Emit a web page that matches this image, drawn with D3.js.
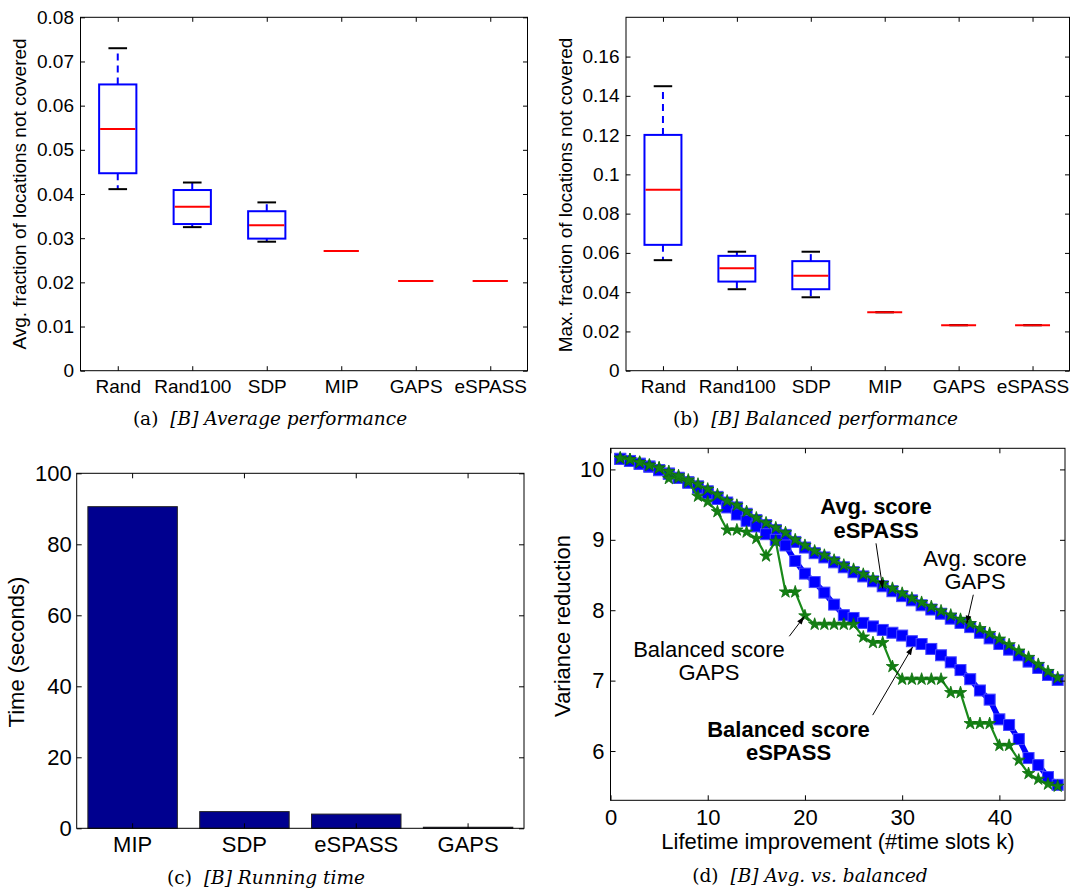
<!DOCTYPE html>
<html>
<head>
<meta charset="utf-8">
<script src="https://cdn.jsdelivr.net/npm/d3@7"></script>
<style>
  body { margin: 0; background: #fff; }
  svg { display: block; }
</style>
</head>
<body>
<div class="chart"></div>
<script>
var svgWidth = 1072;
var svgHeight = 890;

// (a) and (b): box plots over the six methods
var methods = ["Rand", "Rand100", "SDP", "MIP", "GAPS", "eSPASS"];

var avgWhiskerLow  = [0.0411, 0.0325, 0.0292, 0.0271, 0.0203, 0.0203];
var avgQ1          = [0.0447, 0.0332, 0.0299, 0.0271, 0.0203, 0.0203];
var avgMedian      = [0.0547, 0.0371, 0.0329, 0.0271, 0.0203, 0.0203];
var avgQ3          = [0.0648, 0.0409, 0.0361, 0.0271, 0.0203, 0.0203];
var avgWhiskerHigh = [0.0730, 0.0426, 0.0381, 0.0271, 0.0203, 0.0203];
var avgTicks = [0, 0.01, 0.02, 0.03, 0.04, 0.05, 0.06, 0.07, 0.08];

var maxWhiskerLow  = [0.0563, 0.0415, 0.0374, 0.0298, 0.0232, 0.0232];
var maxQ1          = [0.0641, 0.0454, 0.0415, 0.0298, 0.0232, 0.0232];
var maxMedian      = [0.0922, 0.0522, 0.0483, 0.0298, 0.0232, 0.0232];
var maxQ3          = [0.1201, 0.0585, 0.0558, 0.0298, 0.0232, 0.0232];
var maxWhiskerHigh = [0.1449, 0.0606, 0.0606, 0.0298, 0.0232, 0.0232];
var maxTicks = [0, 0.02, 0.04, 0.06, 0.08, 0.1, 0.12, 0.14, 0.16];

// (c): running time
var timeMethods = ["MIP", "SDP", "eSPASS", "GAPS"];
var timeSeconds = [90.6, 4.7, 4.0, 0.3];
var timeTicks = [0, 20, 40, 60, 80, 100];

// (d): variance reduction vs lifetime improvement
var slots = [1, 2, 3, 4, 5, 6, 7, 8, 9, 10, 11, 12, 13, 14, 15, 16, 17, 18, 19, 20, 21, 22, 23,
             24, 25, 26, 27, 28, 29, 30, 31, 32, 33, 34, 35, 36, 37, 38, 39, 40, 41, 42, 43, 44, 45, 46];
var avgESPASS = [10.15, 10.12, 10.08, 10.04, 9.99, 9.94, 9.88, 9.82, 9.76, 9.69, 9.61, 9.53, 9.46, 9.37, 9.28, 9.21,
                 9.14, 9.07, 8.97, 8.89, 8.81, 8.75, 8.68, 8.61, 8.54, 8.48, 8.41, 8.34, 8.27, 8.20, 8.14, 8.07,
                 8.01, 7.95, 7.88, 7.82, 7.76, 7.68, 7.60, 7.52, 7.44, 7.36, 7.27, 7.18, 7.08, 7.01];
var avgGAPS   = [10.16, 10.14, 10.10, 10.06, 10.02, 9.97, 9.91, 9.85, 9.79, 9.72, 9.64, 9.55, 9.49, 9.40, 9.31, 9.24,
                 9.17, 9.10, 9.00, 8.92, 8.84, 8.78, 8.71, 8.64, 8.58, 8.51, 8.45, 8.38, 8.31, 8.24, 8.17, 8.11,
                 8.05, 7.99, 7.93, 7.87, 7.81, 7.74, 7.67, 7.59, 7.51, 7.42, 7.33, 7.23, 7.13, 7.04];
var balESPASS = [10.15, 10.12, 10.08, 10.04, 9.99, 9.94, 9.88, 9.81, 9.74, 9.66, 9.58, 9.46, 9.36, 9.27, 9.19, 9.08,
                 9.00, 8.92, 8.70, 8.52, 8.40, 8.25, 8.08, 7.93, 7.89, 7.82, 7.77, 7.72, 7.68, 7.64, 7.56, 7.52,
                 7.45, 7.36, 7.26, 7.15, 7.02, 6.86, 6.73, 6.45, 6.37, 6.17, 5.90, 5.80, 5.63, 5.52];
var balGAPS   = [10.16, 10.14, 10.10, 10.06, 10.02, 9.87, 9.88, 9.82, 9.62, 9.54, 9.40, 9.14, 9.14, 9.11, 9.02, 8.77,
                 8.98, 8.26, 8.26, 7.92, 7.80, 7.80, 7.80, 7.80, 7.80, 7.62, 7.54, 7.54, 7.20, 7.02, 7.02, 7.02,
                 7.02, 7.02, 6.83, 6.83, 6.39, 6.39, 6.39, 6.08, 6.08, 5.87, 5.68, 5.60, 5.53, 5.50];
var slotTicks = [0, 10, 20, 30, 40];
var varianceTicks = [6, 7, 8, 9, 10];

var sans = "'Liberation Sans', Arial, Helvetica, sans-serif";
var serif = "'DejaVu Serif', serif";

var svg = d3.select(".chart")
  .append("svg")
  .attr("width", svgWidth)
  .attr("height", svgHeight);

var defs = svg.append("defs");
defs.append("marker")
  .attr("id", "arrowhead")
  .attr("viewBox", "0 0 10 10")
  .attr("refX", 10)
  .attr("refY", 5)
  .attr("markerWidth", 9)
  .attr("markerHeight", 8)
  .attr("markerUnits", "userSpaceOnUse")
  .attr("orient", "auto")
  .append("path")
  .attr("d", "M0,1.5 L10,5 L0,8.5 Z")
  .attr("fill", "#000");

// box on, ticks mirrored inwards like matlab
function addFrame(g, w, h) {
  g.append("rect")
    .attr("width", w)
    .attr("height", h)
    .attr("fill", "none")
    .attr("stroke", "#000")
    .attr("stroke-width", 1);
}

function addYAxes(g, y, ticks, w, fontSize, pad, tk) {
  g.append("g")
    .call(d3.axisLeft(y).tickValues(ticks).tickFormat(d3.format("~g"))
      .tickSizeInner(-tk).tickSizeOuter(0).tickPadding(pad))
    .call(s => s.select(".domain").remove())
    .attr("font-family", sans)
    .attr("font-size", fontSize);
  g.append("g")
    .attr("transform", `translate(${w},0)`)
    .call(d3.axisRight(y).tickValues(ticks).tickFormat("")
      .tickSizeInner(-tk).tickSizeOuter(0))
    .call(s => s.select(".domain").remove());
}

function addXAxes(g, x, ticks, h, fontSize, pad, tk) {
  var bottom = d3.axisBottom(x).tickSizeInner(-tk).tickSizeOuter(0).tickPadding(pad);
  var top = d3.axisTop(x).tickSizeInner(-tk).tickSizeOuter(0).tickFormat("");
  if (ticks) {
    bottom.tickValues(ticks).tickFormat(d3.format("~g"));
    top.tickValues(ticks);
  }
  g.append("g")
    .attr("transform", `translate(0,${h})`)
    .call(bottom)
    .call(s => s.select(".domain").remove())
    .attr("font-family", sans)
    .attr("font-size", fontSize);
  g.append("g")
    .call(top)
    .call(s => s.select(".domain").remove());
}

function yTitle(x, y, text, fontSize) {
  svg.append("text")
    .attr("transform", `translate(${x},${y}) rotate(-90)`)
    .attr("text-anchor", "middle")
    .attr("font-family", sans)
    .attr("font-size", fontSize)
    .text(text);
}

function caption(cx, cy, tag, rest) {
  var t = svg.append("text")
    .attr("x", cx)
    .attr("y", cy)
    .attr("text-anchor", "middle")
    .attr("font-family", serif)
    .attr("font-size", 18.5);
  t.append("tspan").text(tag);
  t.append("tspan").attr("dx", 12).attr("font-style", "italic").text(rest);
}

// ---------- (a) and (b) box plots ----------
function drawBoxPanel(box, lo, q1, med, q3, hi, ticks, yMax) {
  var w = box.right - box.left;
  var h = box.bottom - box.top;
  var g = svg.append("g").attr("transform", `translate(${box.left},${box.top})`);

  var x = d3.scalePoint().domain(methods).range([0, w]).padding(0.5);
  var y = d3.scaleLinear().domain([0, yMax]).range([h, 0]);
  var half = x.step() * 0.25;
  var cap = x.step() * 0.125;

  var stats = methods.map((m, i) => ({ m: m, lo: lo[i], q1: q1[i], med: med[i], q3: q3[i], hi: hi[i] }));
  var boxes = g.selectAll("g.box").data(stats).enter().append("g").attr("class", "box");

  boxes.append("line")
    .attr("x1", d => x(d.m)).attr("x2", d => x(d.m))
    .attr("y1", d => y(d.q3)).attr("y2", d => y(d.hi))
    .attr("stroke", "#0000ff").attr("stroke-width", 2).attr("stroke-dasharray", "7,5");
  boxes.append("line")
    .attr("x1", d => x(d.m)).attr("x2", d => x(d.m))
    .attr("y1", d => y(d.q1)).attr("y2", d => y(d.lo))
    .attr("stroke", "#0000ff").attr("stroke-width", 2).attr("stroke-dasharray", "7,5");
  boxes.append("line")
    .attr("x1", d => x(d.m) - cap).attr("x2", d => x(d.m) + cap)
    .attr("y1", d => y(d.hi)).attr("y2", d => y(d.hi))
    .attr("stroke", "#000").attr("stroke-width", 2);
  boxes.append("line")
    .attr("x1", d => x(d.m) - cap).attr("x2", d => x(d.m) + cap)
    .attr("y1", d => y(d.lo)).attr("y2", d => y(d.lo))
    .attr("stroke", "#000").attr("stroke-width", 2);
  boxes.append("rect")
    .attr("x", d => x(d.m) - half)
    .attr("y", d => y(d.q3))
    .attr("width", half * 2)
    .attr("height", d => y(d.q1) - y(d.q3))
    .attr("fill", "none")
    .attr("stroke", "#0000ff")
    .attr("stroke-width", 2);
  boxes.append("line")
    .attr("x1", d => x(d.m) - half + 1).attr("x2", d => x(d.m) + half - 1)
    .attr("y1", d => y(d.med)).attr("y2", d => y(d.med))
    .attr("stroke", "#ff0000").attr("stroke-width", 2);

  addFrame(g, w, h);
  addYAxes(g, y, ticks, w, 19, 6.5, 4.5);
  addXAxes(g, x, null, h, 19, 9, 4.5);
}

drawBoxPanel({ left: 80.5, right: 527.5, top: 17.3, bottom: 370.7 },
  avgWhiskerLow, avgQ1, avgMedian, avgQ3, avgWhiskerHigh, avgTicks, 0.08);
yTitle(26, 194, "Avg. fraction of locations not covered", 19);
caption(270, 425, "(a)", "[B] Average performance");

drawBoxPanel({ left: 626, right: 1069.5, top: 17.3, bottom: 370.7 },
  maxWhiskerLow, maxQ1, maxMedian, maxQ3, maxWhiskerHigh, maxTicks, 0.18);
yTitle(572, 195, "Max. fraction of locations not covered", 19);
caption(815.5, 425, "(b)", "[B] Balanced performance");

// ---------- (c) running time bars ----------
(function () {
  var box = { left: 76.7, right: 524, top: 473.3, bottom: 828.3 };
  var w = box.right - box.left;
  var h = box.bottom - box.top;
  var g = svg.append("g").attr("transform", `translate(${box.left},${box.top})`);

  var x = d3.scaleBand().domain(timeMethods).range([0, w]).paddingInner(0.2).paddingOuter(0.1);
  var y = d3.scaleLinear().domain([0, 100]).range([h, 0]);

  g.selectAll("rect.bar")
    .data(timeSeconds)
    .enter()
    .append("rect")
    .attr("class", "bar")
    .attr("x", (d, i) => x(timeMethods[i]))
    .attr("y", d => y(d))
    .attr("width", x.bandwidth())
    .attr("height", d => h - y(d))
    .attr("fill", "#00008f")
    .attr("stroke", "#222")
    .attr("stroke-width", 1);

  addFrame(g, w, h);
  addYAxes(g, y, timeTicks, w, 22, 5, 5);
  addXAxes(g, x, null, h, 22, 8, 5);
})();
yTitle(23.5, 652, "Time (seconds)", 22);
caption(266, 884, "(c)", "[B] Running time");

// ---------- (d) avg vs balanced ----------
(function () {
  var box = { left: 610.5, right: 1065, top: 448.3, bottom: 800.3 };
  var w = box.right - box.left;
  var h = box.bottom - box.top;
  var g = svg.append("g").attr("transform", `translate(${box.left},${box.top})`);

  var x = d3.scaleLinear().domain([0, 46.75]).range([0, w]);
  var y = d3.scaleLinear().domain([5.3, 10.3]).range([h, 0]);
  var line = d3.line().x((d, i) => x(slots[i])).y(d => y(d));

  // blue squares (eSPASS), drawn under the green stars (GAPS)
  [avgESPASS, balESPASS].forEach(function (series) {
    g.append("path")
      .datum(series)
      .attr("d", line)
      .attr("fill", "none")
      .attr("stroke", "#0000ff")
      .attr("stroke-width", 5.5)
      .attr("stroke-linejoin", "miter");
    g.selectAll(null)
      .data(series)
      .enter()
      .append("rect")
      .attr("x", (d, i) => x(slots[i]) - 5.5)
      .attr("y", d => y(d) - 5.5)
      .attr("width", 11)
      .attr("height", 11)
      .attr("fill", "#0000ff")
      .attr("stroke", "#4848ff")
      .attr("stroke-width", 1);
  });

  var star = d3.symbol().type(d3.symbolStar).size(48);
  [balGAPS, avgGAPS].forEach(function (series) {
    g.append("path")
      .datum(series)
      .attr("d", line)
      .attr("fill", "none")
      .attr("stroke", "#1a8a1a")
      .attr("stroke-width", 2.2);
    g.selectAll(null)
      .data(series)
      .enter()
      .append("path")
      .attr("d", star)
      .attr("transform", (d, i) => `translate(${x(slots[i])},${y(d)})`)
      .attr("fill", "#138013")
      .attr("stroke", "#0d6e0d")
      .attr("stroke-width", 0.8);
  });

  addFrame(g, w, h);
  addYAxes(g, y, varianceTicks, w, 22, 6, 5);
  addXAxes(g, x, slotTicks, h, 22, 9.5, 5);

  // annotations with arrows (data coordinates)
  var notes = [
    { lines: ["Avg. score", "eSPASS"], bold: true, at: [27.31, 9.36], from: [27.31, 8.95], to: [28.0, 8.31] },
    { lines: ["Avg. score", "GAPS"], bold: false, at: [37.5, 8.63], from: [37.32, 8.22], to: [36.64, 7.81] },
    { lines: ["Balanced score", "GAPS"], bold: false, at: [10.13, 7.34], from: [18.39, 7.63], to: [19.93, 7.91] },
    { lines: ["Balanced score", "eSPASS"], bold: true, at: [18.31, 6.2], from: [26.97, 6.51], to: [31.08, 7.48] }
  ];
  notes.forEach(function (n) {
    g.append("line")
      .attr("x1", x(n.from[0])).attr("y1", y(n.from[1]))
      .attr("x2", x(n.to[0])).attr("y2", y(n.to[1]))
      .attr("stroke", "#000")
      .attr("stroke-width", 1)
      .attr("marker-end", "url(#arrowhead)");
    var t = g.append("text")
      .attr("x", x(n.at[0]))
      .attr("y", y(n.at[1]))
      .attr("text-anchor", "middle")
      .attr("font-family", sans)
      .attr("font-size", 22)
      .attr("font-weight", n.bold ? "bold" : "normal");
    n.lines.forEach(function (s, i) {
      t.append("tspan")
        .attr("x", x(n.at[0]))
        .attr("dy", i === 0 ? 0 : 23.5)
        .text(s);
    });
  });
})();
yTitle(570, 626, "Variance reduction", 22);
svg.append("text")
  .attr("x", 838)
  .attr("y", 848.5)
  .attr("text-anchor", "middle")
  .attr("font-family", sans)
  .attr("font-size", 22)
  .text("Lifetime improvement (#time slots k)");
caption(810, 882, "(d)", "[B] Avg. vs. balanced");
</script>
</body>
</html>
